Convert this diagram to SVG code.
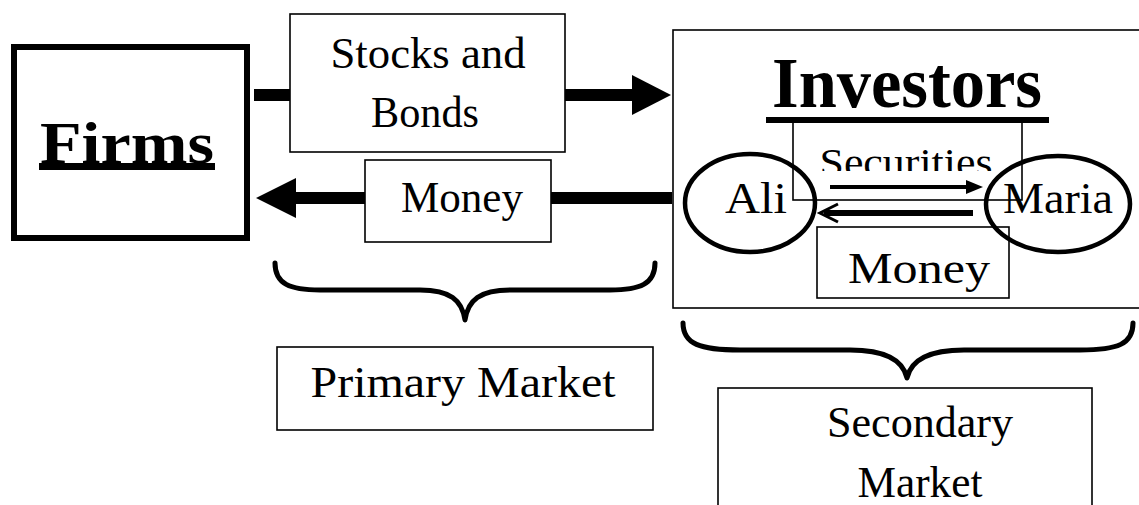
<svg xmlns="http://www.w3.org/2000/svg" width="1139" height="505" viewBox="0 0 1139 505">
<style>
  .box{fill:#fff;stroke:#000;stroke-width:1.6}
  .t{font-family:"Liberation Serif","Times New Roman",serif;fill:#000}
  .bar{stroke:#000;stroke-width:12;fill:none}
  .brace{stroke:#000;stroke-width:5;fill:none;stroke-linecap:round;stroke-linejoin:round}
</style>
<defs>
  <clipPath id="secClip"><rect x="800" y="130" width="210" height="41"/></clipPath>
</defs>
<rect width="1139" height="505" fill="#fff"/>

<g id="firms">
  <rect x="14" y="47" width="233" height="191" fill="#fff" stroke="#000" stroke-width="6"/>
  <text class="t" x="127" y="163" font-size="60" font-weight="bold" text-anchor="middle" textLength="174" lengthAdjust="spacingAndGlyphs">Firms</text>
  <rect x="39" y="163" width="176" height="7" fill="#000"/>
</g>

<g id="investors">
  <rect class="box" x="673" y="30" width="480" height="278"/>
  <text class="t" x="907" y="107" font-size="72" font-weight="bold" text-anchor="middle" textLength="270" lengthAdjust="spacingAndGlyphs">Investors</text>
  <rect x="766" y="117" width="283" height="6" fill="#000"/>
</g>

<g id="connectors">
  <line class="bar" x1="254" y1="95" x2="337" y2="95"/>
  <line class="bar" x1="530" y1="95" x2="636" y2="95"/>
  <polygon points="632,75 671,95 632,115" fill="#000"/>
  <line class="bar" x1="672" y1="198" x2="542" y2="198"/>
  <line class="bar" x1="373" y1="198" x2="292" y2="198"/>
  <polygon points="296,178 256,198 296,218" fill="#000"/>
  <line x1="830" y1="187" x2="972" y2="187" stroke="#000" stroke-width="4"/>
  <polygon points="966,180 983,187 966,194" fill="#000"/>
  <line x1="973" y1="213" x2="824" y2="213" stroke="#000" stroke-width="6"/>
  <polyline points="838,204 820,213 838,222" fill="none" stroke="#000" stroke-width="3"/>
</g>

<g id="stocks-bonds">
  <rect class="box" x="290" y="14" width="275" height="138"/>
  <text class="t" x="428" y="68" font-size="44" text-anchor="middle" textLength="195" lengthAdjust="spacingAndGlyphs">Stocks and</text>
  <text class="t" x="425" y="127" font-size="44" text-anchor="middle" textLength="108" lengthAdjust="spacingAndGlyphs">Bonds</text>
</g>

<g id="money-primary">
  <rect class="box" x="365" y="160" width="186" height="82"/>
  <text class="t" x="462" y="212" font-size="44" text-anchor="middle" textLength="122" lengthAdjust="spacingAndGlyphs">Money</text>
</g>

<g id="securities">
  <rect x="793" y="122" width="229" height="78" fill="none" stroke="#000" stroke-width="1.6"/>
  <text class="t" x="906" y="176" font-size="40" text-anchor="middle" textLength="173" lengthAdjust="spacingAndGlyphs" clip-path="url(#secClip)">Securities</text>
</g>

<g id="money-secondary">
  <rect x="817" y="227" width="192" height="71" fill="none" stroke="#000" stroke-width="1.6"/>
  <text class="t" x="919" y="283" font-size="44" text-anchor="middle" textLength="142" lengthAdjust="spacingAndGlyphs">Money</text>
</g>

<g id="ali">
  <ellipse cx="750" cy="203" rx="65" ry="49" fill="none" stroke="#000" stroke-width="4.5"/>
  <text class="t" x="756" y="213" font-size="44" text-anchor="middle" textLength="62" lengthAdjust="spacingAndGlyphs">Ali</text>
</g>

<g id="maria">
  <ellipse cx="1058" cy="204" rx="72" ry="48" fill="none" stroke="#000" stroke-width="4.5"/>
  <text class="t" x="1058" y="213" font-size="44" text-anchor="middle" textLength="110" lengthAdjust="spacingAndGlyphs">Maria</text>
</g>

<g id="primary-brace">
  <path class="brace" d="M275,263 C275,284 290,290 320,290 L420,290 C450,290 462,300 465,320 C468,300 480,290 510,290 L610,290 C640,290 655,284 655,263"/>
</g>

<g id="primary-market">
  <rect class="box" x="277" y="347" width="376" height="83"/>
  <text class="t" x="463" y="397" font-size="44" text-anchor="middle" textLength="305" lengthAdjust="spacingAndGlyphs">Primary Market</text>
</g>

<g id="secondary-brace">
  <path class="brace" d="M683,323 C683,344 700,350 740,350 L850,350 C885,350 903,360 907,378 C911,360 929,350 964,350 L1080,350 C1118,350 1133,344 1133,323"/>
</g>

<g id="secondary-market">
  <rect class="box" x="718" y="388" width="374" height="130"/>
  <text class="t" x="920" y="437" font-size="44" text-anchor="middle" textLength="186" lengthAdjust="spacingAndGlyphs">Secondary</text>
  <text class="t" x="920" y="497" font-size="44" text-anchor="middle" textLength="125" lengthAdjust="spacingAndGlyphs">Market</text>
</g>
</svg>
